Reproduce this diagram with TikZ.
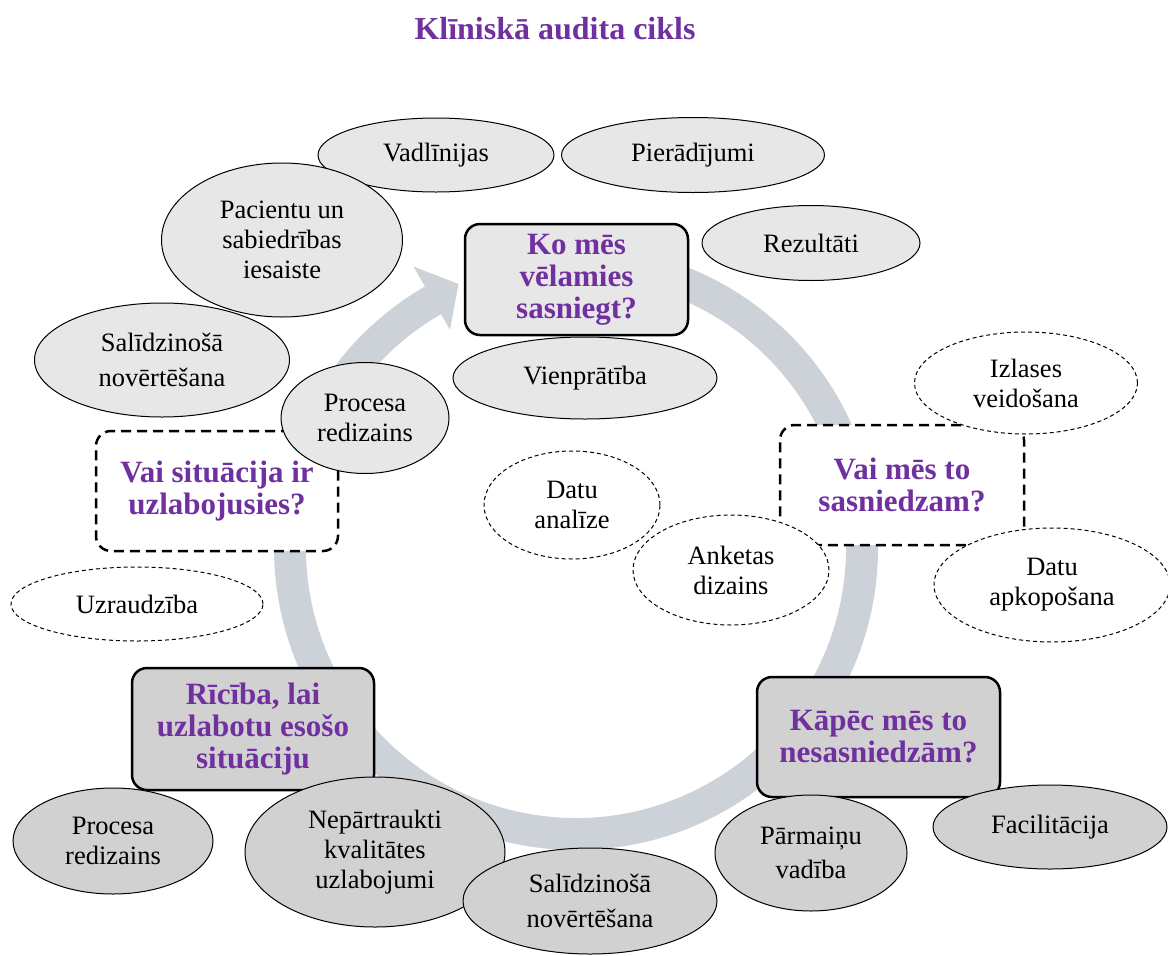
\documentclass[tikz,border=0pt]{standalone}
\usepackage{fontspec}
\setmainfont{Liberation Serif}
\usetikzlibrary{shapes.geometric}
\usetikzlibrary{calc}
\definecolor{auditpurple}{HTML}{7030A0}
\definecolor{ringgray}{HTML}{CDD2D9}
\definecolor{lightfill}{HTML}{E7E7E7}
\definecolor{darkfill}{HTML}{D1D1D1}
\tikzstyle{question} = [rectangle, rounded corners=15pt, line width=2.5pt, draw=black, align=center, text=auditpurple, inner sep=0pt, font=\fontsize{31}{32}\selectfont\bfseries]
\tikzstyle{openq} = [question, dash pattern=on 10pt off 6pt, fill=white]
\tikzstyle{topic} = [ellipse, inner sep=0pt, draw=black, line width=1pt, align=center, font=\fontsize{26.5}{30}\selectfont]
\tikzstyle{task} = [topic, dash pattern=on 4pt off 3pt, fill=white]
\newcommand{\ringin}{270}
\newcommand{\ringout}{302}

\begin{document}
\begin{tikzpicture}[x=1pt, y=-1pt]
  \useasboundingbox (0,0) rectangle (1168,956);

  % Title
  \node [anchor=base, text=auditpurple, font=\fontsize{32}{34}\selectfont\bfseries] (title) at (555,39) {Klīniskā audita cikls};

  % Ring
  \coordinate (hub) at (576,548);
  \fill [ringgray] (hub) ++(-95:\ringout) arc [start angle=-95, end angle=240, radius=\ringout]
    -- ($(hub)+(240:325)$) -- ($(hub)+(246:289)$) -- ($(hub)+(240:252)$)
    -- ($(hub)+(240:\ringin)$) arc [start angle=240, end angle=-95, radius=\ringin] -- cycle;

  % Top group
  \node [topic, fill=lightfill, minimum width=236pt, minimum height=74pt] (guide) at (436,155) {Vadlīnijas};
  \node [topic, fill=lightfill, minimum width=263pt, minimum height=75pt] (proof) at (693,155) {Pierādījumi};
  \node [topic, fill=lightfill, minimum width=218pt, minimum height=75pt] (result) at (811,243) {Rezultāti};
  \node [topic, fill=lightfill, minimum width=241pt, minimum height=154pt] (patient) at (282,240) {Pacientu un\\sabiedrības\\iesaiste};
  \node [topic, fill=lightfill, minimum width=255pt, minimum height=114pt] (benchA) at (162,360) {Salīdzinošā\\[5pt]novērtēšana};

  \node [question, fill=lightfill, minimum width=223pt, minimum height=111pt] (aim) at (576.5,279.5) {Ko mēs\\vēlamies\\sasniegt?};

  \node [topic, fill=lightfill, minimum width=264pt, minimum height=82pt] (consent) at (585,378) {Vienprātība};

  % Left question
  \node [openq, minimum width=242pt, minimum height=120pt] (better) at (217,491) {Vai situācija ir\\uzlabojusies?};
  \node [topic, fill=lightfill, minimum width=168pt, minimum height=111pt] (redoA) at (365,418) {Procesa\\redizains};

  % Right question
  \node [openq, minimum width=244pt, minimum height=120pt] (reach) at (902,485) {Vai mēs to\\sasniedzam?};
  \node [task, minimum width=223pt, minimum height=102pt] (sample) at (1026,383) {Izlases\\veidošana};
  \node [task, minimum width=236pt, minimum height=114pt] (collect) at (1052,585) {Datu\\apkopošana};
  \node [task, minimum width=176pt, minimum height=108pt] (analyse) at (572,505) {Datu\\analīze};
  \node [task, minimum width=196pt, minimum height=110pt] (survey) at (731,570) {Anketas\\dizains};

  \node [task, minimum width=252pt, minimum height=74pt] (monitor) at (137,604) {Uzraudzība};

  % Bottom left
  \node [question, fill=darkfill, minimum width=242pt, minimum height=122pt] (act) at (253,729) {Rīcība, lai\\uzlabotu esošo\\situāciju};
  \node [topic, fill=darkfill, minimum width=200pt, minimum height=106pt] (redoB) at (113,841) {Procesa\\redizains};
  \node [topic, fill=darkfill, minimum width=260pt, minimum height=150pt] (quality) at (375,852) {Nepārtraukti\\kvalitātes\\uzlabojumi};
  \node [topic, fill=darkfill, minimum width=254pt, minimum height=106pt] (benchB) at (590,901) {Salīdzinošā\\[5pt]novērtēšana};

  % Bottom right
  \node [question, fill=darkfill, minimum width=243pt, minimum height=120pt] (why) at (878.5,737) {Kāpēc mēs to\\nesasniedzām?};
  \node [topic, fill=darkfill, minimum width=192pt, minimum height=116pt] (change) at (811,853) {Pārmaiņu\\[4pt]vadība};
  \node [topic, fill=darkfill, minimum width=234pt, minimum height=84pt] (facil) at (1050,827) {Facilitācija};

\end{tikzpicture}
\end{document}
